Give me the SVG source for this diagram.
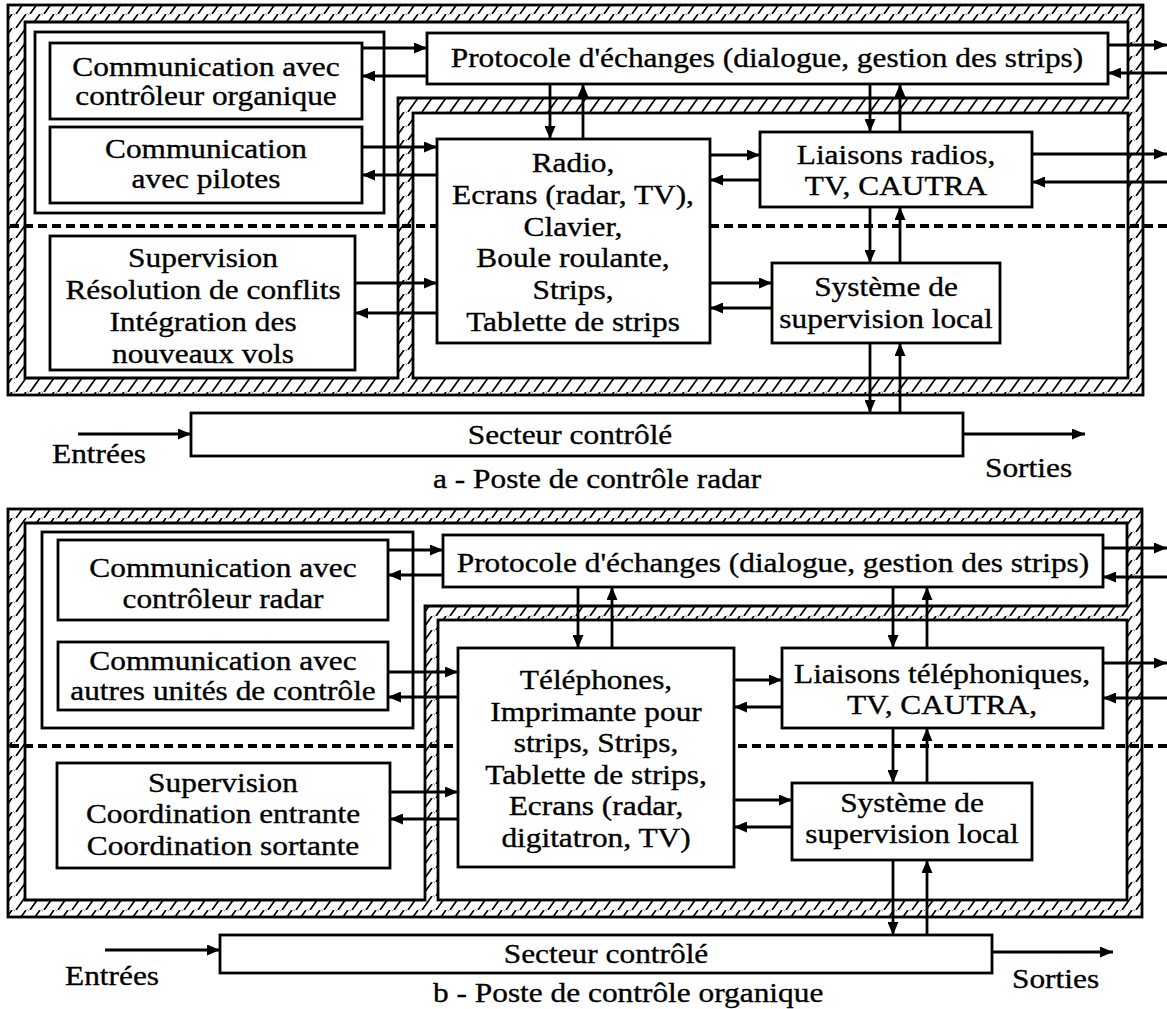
<svg xmlns="http://www.w3.org/2000/svg" width="1167" height="1009" viewBox="0 0 1167 1009">
<style>
.frame{fill:url(#hatch);stroke:#000;stroke-width:2.8}
.reg{fill:#fff;stroke:#000;stroke-width:2.8}
.box{fill:#fff;stroke:#000;stroke-width:2.8}
.dash{fill:none;stroke:#000;stroke-width:4;stroke-dasharray:9 5}
.conn line{stroke:#000;stroke-width:2.8;marker-end:url(#ah)}
text{font-family:"Liberation Serif","Times New Roman",serif;font-size:28px;fill:#000;stroke:#000;stroke-width:0.35}
.c{text-anchor:middle}
</style>
<defs>
<pattern id="hatch" patternUnits="userSpaceOnUse" width="14" height="14">
<rect width="14" height="14" fill="#fff"/>
<path d="M2,14 L12,0 M-5,7 L0,0 M9,21 L14,14 M16,0 L19,-4" stroke="#000" stroke-width="1.7"/>
</pattern>
<marker id="ah" markerUnits="userSpaceOnUse" markerWidth="14" markerHeight="11" refX="13" refY="5.5" orient="auto">
<path d="M0,0 L13,5.5 L0,11 z" fill="#000"/>
</marker>
</defs>
<rect width="1167" height="1009" fill="#fff"/>

<!-- ===== Diagram a ===== -->
<g id="frame-a">
<rect class="frame" x="8" y="5" width="1135" height="390"/>
<path class="reg" d="M25,22 H1128 V98 H398 V378 H25 Z"/>
<rect class="reg" x="413" y="113" width="715" height="265"/>
<line class="dash" x1="10" y1="226" x2="1167" y2="226"/>
</g>
<g id="group-a"><rect class="box" x="35" y="32" width="349" height="181"/></g>
<g id="comm1-a"><rect class="box" x="50" y="43" width="312" height="76"/>
<g transform="translate(206,0) scale(1.12,1)"><text class="c" x="0" y="76">Communication avec</text><text class="c" x="0" y="105">contrôleur organique</text></g></g>
<g id="comm2-a"><rect class="box" x="50" y="127" width="312" height="76"/>
<g transform="translate(206,0) scale(1.12,1)"><text class="c" x="0" y="158">Communication</text><text class="c" x="0" y="188">avec pilotes</text></g></g>
<g id="protocole-a"><rect class="box" x="427" y="33" width="681" height="51"/>
<g transform="translate(767,0) scale(1.12,1)"><text class="c" x="0" y="67">Protocole d'échanges (dialogue, gestion des strips)</text></g></g>
<g id="radio-a"><rect class="box" x="437" y="139" width="273" height="204"/>
<g transform="translate(573,0) scale(1.12,1)"><text class="c" x="0" y="172">Radio,</text><text class="c" x="0" y="204">Ecrans (radar, TV),</text><text class="c" x="0" y="236">Clavier,</text><text class="c" x="0" y="267">Boule roulante,</text><text class="c" x="0" y="299">Strips,</text><text class="c" x="0" y="331">Tablette de strips</text></g></g>
<g id="liaisons-a"><rect class="box" x="760" y="132" width="272" height="75"/>
<g transform="translate(896,0) scale(1.12,1)"><text class="c" x="0" y="164">Liaisons radios,</text><text class="c" x="0" y="195">TV, CAUTRA</text></g></g>
<g id="systeme-a"><rect class="box" x="772" y="263" width="228" height="80"/>
<g transform="translate(886,0) scale(1.12,1)"><text class="c" x="0" y="296">Système de</text><text class="c" x="0" y="328">supervision local</text></g></g>
<g id="supervision-a"><rect class="box" x="50" y="236" width="305" height="134"/>
<g transform="translate(203,0) scale(1.12,1)"><text class="c" x="0" y="267">Supervision</text><text class="c" x="0" y="299">Résolution de conflits</text><text class="c" x="0" y="331">Intégration des</text><text class="c" x="0" y="363">nouveaux vols</text></g></g>
<g id="secteur-a"><rect class="box" x="191" y="413" width="772" height="43"/>
<g transform="translate(570,0) scale(1.12,1)"><text class="c" x="0" y="444">Secteur contrôlé</text></g></g>
<g id="labels-a">
<g transform="translate(52,0) scale(1.12,1)"><text x="0" y="463">Entrées</text></g>
<g transform="translate(985,0) scale(1.12,1)"><text x="0" y="477">Sorties</text></g>
<g transform="translate(433,0) scale(1.12,1)"><text x="0" y="488">a - Poste de contrôle radar</text></g>
</g>
<g id="connectors-a" class="conn">
<line x1="362" y1="48" x2="427" y2="48"/>
<line x1="427" y1="76" x2="362" y2="76"/>
<line x1="362" y1="147" x2="437" y2="147"/>
<line x1="437" y1="175" x2="362" y2="175"/>
<line x1="550" y1="84" x2="550" y2="139"/>
<line x1="583" y1="139" x2="583" y2="84"/>
<line x1="1108" y1="45" x2="1167" y2="45"/>
<line x1="1167" y1="73" x2="1108" y2="73"/>
<line x1="870" y1="84" x2="870" y2="132"/>
<line x1="900" y1="132" x2="900" y2="84"/>
<line x1="710" y1="155" x2="760" y2="155"/>
<line x1="760" y1="180" x2="710" y2="180"/>
<line x1="1032" y1="154" x2="1167" y2="154"/>
<line x1="1167" y1="182" x2="1032" y2="182"/>
<line x1="870" y1="207" x2="870" y2="263"/>
<line x1="900" y1="263" x2="900" y2="207"/>
<line x1="355" y1="283" x2="437" y2="283"/>
<line x1="437" y1="313" x2="355" y2="313"/>
<line x1="710" y1="283" x2="772" y2="283"/>
<line x1="772" y1="308" x2="710" y2="308"/>
<line x1="870" y1="343" x2="870" y2="413"/>
<line x1="900" y1="413" x2="900" y2="343"/>
<line x1="78" y1="434" x2="191" y2="434"/>
<line x1="963" y1="434" x2="1085" y2="434"/>
</g>

<!-- ===== Diagram b ===== -->
<g id="frame-b">
<rect class="frame" x="8" y="509" width="1134" height="408"/>
<path class="reg" d="M25,523 H1127 V606 H425 V900 H25 Z"/>
<rect class="reg" x="438" y="620" width="689" height="280"/>
<line class="dash" x1="10" y1="746" x2="1167" y2="746"/>
</g>
<g id="group-b"><rect class="box" x="42" y="532" width="371" height="196"/></g>
<g id="comm1-b"><rect class="box" x="58" y="540" width="330" height="80"/>
<g transform="translate(223,0) scale(1.12,1)"><text class="c" x="0" y="577">Communication avec</text><text class="c" x="0" y="608">contrôleur radar</text></g></g>
<g id="comm2-b"><rect class="box" x="58" y="642" width="330" height="68"/>
<g transform="translate(223,0) scale(1.12,1)"><text class="c" x="0" y="670">Communication avec</text><text class="c" x="0" y="700">autres unités de contrôle</text></g></g>
<g id="protocole-b"><rect class="box" x="443" y="535" width="660" height="52"/>
<g transform="translate(773,0) scale(1.12,1)"><text class="c" x="0" y="572">Protocole d'échanges (dialogue, gestion des strips)</text></g></g>
<g id="telephones-b"><rect class="box" x="458" y="648" width="276" height="219"/>
<g transform="translate(596,0) scale(1.12,1)"><text class="c" x="0" y="689">Téléphones,</text><text class="c" x="0" y="721">Imprimante pour</text><text class="c" x="0" y="752">strips, Strips,</text><text class="c" x="0" y="784">Tablette de strips,</text><text class="c" x="0" y="815">Ecrans (radar,</text><text class="c" x="0" y="847">digitatron, TV)</text></g></g>
<g id="liaisons-b"><rect class="box" x="782" y="648" width="321" height="80"/>
<g transform="translate(942,0) scale(1.12,1)"><text class="c" x="0" y="683">Liaisons téléphoniques,</text><text class="c" x="0" y="714">TV, CAUTRA,</text></g></g>
<g id="systeme-b"><rect class="box" x="792" y="783" width="240" height="77"/>
<g transform="translate(912,0) scale(1.12,1)"><text class="c" x="0" y="812">Système de</text><text class="c" x="0" y="843">supervision local</text></g></g>
<g id="supervision-b"><rect class="box" x="57" y="763" width="333" height="105"/>
<g transform="translate(223,0) scale(1.12,1)"><text class="c" x="0" y="792">Supervision</text><text class="c" x="0" y="823">Coordination entrante</text><text class="c" x="0" y="855">Coordination sortante</text></g></g>
<g id="secteur-b"><rect class="box" x="220" y="935" width="772" height="38"/>
<g transform="translate(606,0) scale(1.12,1)"><text class="c" x="0" y="963">Secteur contrôlé</text></g></g>
<g id="labels-b">
<g transform="translate(65,0) scale(1.12,1)"><text x="0" y="985">Entrées</text></g>
<g transform="translate(1012,0) scale(1.12,1)"><text x="0" y="988">Sorties</text></g>
<g transform="translate(433,0) scale(1.12,1)"><text x="0" y="1002">b - Poste de contrôle organique</text></g>
</g>
<g id="connectors-b" class="conn">
<line x1="388" y1="550" x2="443" y2="550"/>
<line x1="443" y1="575" x2="388" y2="575"/>
<line x1="388" y1="672" x2="458" y2="672"/>
<line x1="458" y1="697" x2="388" y2="697"/>
<line x1="578" y1="587" x2="578" y2="648"/>
<line x1="612" y1="648" x2="612" y2="587"/>
<line x1="1103" y1="548" x2="1167" y2="548"/>
<line x1="1167" y1="577" x2="1103" y2="577"/>
<line x1="893" y1="587" x2="893" y2="648"/>
<line x1="927" y1="648" x2="927" y2="587"/>
<line x1="734" y1="680" x2="782" y2="680"/>
<line x1="782" y1="707" x2="734" y2="707"/>
<line x1="1103" y1="663" x2="1167" y2="663"/>
<line x1="1167" y1="698" x2="1103" y2="698"/>
<line x1="893" y1="728" x2="893" y2="783"/>
<line x1="927" y1="783" x2="927" y2="728"/>
<line x1="390" y1="792" x2="458" y2="792"/>
<line x1="458" y1="819" x2="390" y2="819"/>
<line x1="734" y1="800" x2="792" y2="800"/>
<line x1="792" y1="827" x2="734" y2="827"/>
<line x1="893" y1="860" x2="893" y2="935"/>
<line x1="927" y1="935" x2="927" y2="860"/>
<line x1="105" y1="950" x2="220" y2="950"/>
<line x1="992" y1="952" x2="1113" y2="952"/>
</g>
</svg>
